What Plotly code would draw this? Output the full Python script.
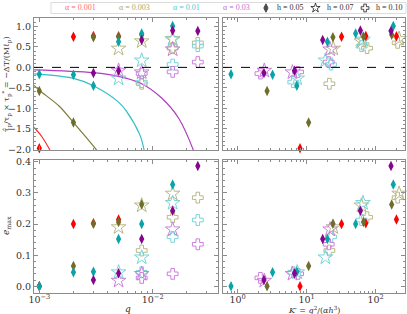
import plotly.graph_objects as go
import numpy as np

# ---------------- data ----------------
alphas = [0.001, 0.003, 0.01, 0.03]
alpha_labels = ["α = 0.001", "α = 0.003", "α = 0.01", "α = 0.03"]
h_values = [0.05, 0.07, 0.10]
h_labels = ["h = 0.05", "h = 0.07", "h = 0.10"]

# h = 0.05 (diamonds)
q_h05 = {
    0.001: [0.001, 0.002, 0.003, 0.005],
    0.003: [0.001, 0.002, 0.003, 0.005, 0.008],
    0.01:  [0.001, 0.002, 0.003, 0.005, 0.008, 0.015],
    0.03:  [0.003, 0.005, 0.008, 0.015, 0.025],
}
tau_h05 = {
    0.001: [-1.98, 0.75, 0.77, 0.76],
    0.003: [-0.58, -1.35, 0.74, 0.75, 0.80],
    0.01:  [-0.17, -0.18, -0.45, 0.63, 0.83, 1.01],
    0.03:  [-0.14, -0.08, 0.67, 0.90, 0.89],
}
e_h05 = {
    0.001: [0.0, 0.200, 0.203, 0.215],
    0.003: [0.0, 0.065, 0.201, 0.207, 0.263],
    0.01:  [0.0, 0.045, 0.047, 0.152, 0.200, 0.327],
    0.03:  [0.020, 0.042, 0.152, 0.243, 0.387],
}
# h = 0.07 (open stars)
q_h07 = {
    0.003: [0.005, 0.008, 0.015],
    0.01:  [0.005, 0.008, 0.015],
    0.03:  [0.005, 0.008, 0.015],
}
tau_h07 = {
    0.003: [0.46, 0.64, 0.70],
    0.01:  [-0.27, 0.17, 0.68],
    0.03:  [-0.08, -0.12, 0.44],
}
e_h07 = {
    0.003: [0.190, 0.260, 0.298],
    0.01:  [0.045, 0.093, 0.268],
    0.03:  [0.018, 0.040, 0.183],
}
# h = 0.10 (open crosses)
q_h10 = {
    0.003: [0.008, 0.015, 0.025],
    0.01:  [0.008, 0.015, 0.025],
    0.03:  [0.008, 0.015, 0.025],
}
tau_h10 = {
    0.003: [-0.40, 0.47, 0.60],
    0.01:  [-0.36, 0.07, 0.52],
    0.03:  [-0.15, -0.11, 0.13],
}
e_h10 = {
    0.003: [0.115, 0.222, 0.285],
    0.01:  [0.045, 0.159, 0.213],
    0.03:  [0.027, 0.040, 0.135],
}

# model curves (h = 0.05), top-left panel
curve_q = {
    0.001: [0.00090, 0.00105, 0.00124],
    0.003: [0.00090, 0.0010, 0.0015, 0.0020, 0.0026, 0.0032],
    0.01:  [0.00090, 0.0020, 0.0030, 0.0050, 0.0059, 0.0077, 0.0084],
    0.03:  [0.00090, 0.0030, 0.0050, 0.0080, 0.0120, 0.0170, 0.0228],
}
curve_tau = {
    0.001: [-1.47, -1.69, -2.02],
    0.003: [-0.44, -0.56, -0.95, -1.35, -1.72, -2.02],
    0.01:  [-0.16, -0.27, -0.45, -0.85, -1.08, -1.65, -2.02],
    0.03:  [-0.06, -0.13, -0.22, -0.40, -0.75, -1.25, -2.02],
}

# tick positions
q_major = [0.001, 0.01]
q_minor = [0.0009, 0.002, 0.003, 0.004, 0.005, 0.006, 0.007, 0.008, 0.009, 0.02, 0.03]
k_major = [1, 10, 100]
k_minor = [0.7, 0.8, 0.9, 2, 3, 4, 5, 6, 7, 8, 9, 20, 30, 40, 50, 60, 70, 80, 90, 200]

# ---------------- styles ----------------
col_dark = {0.001: "#ff0000", 0.003: "#6e6e2c", 0.01: "#0aa3a8", 0.03: "#84068c"}
col_line = {0.001: "#ff2a2a", 0.003: "#7d7d3a", 0.01: "#2ec0c6", 0.03: "#b03cc0"}
col_open = {0.003: "#b8b888", 0.01: "#78d4d8", 0.03: "#cc80dc"}
col_text = {0.001: "#ff6a6a", 0.003: "#a8a870", 0.01: "#50c8cc", 0.03: "#c070d0"}

W, H = 407, 314
FONT = "DejaVu Serif"
LFONT = "Liberation Serif"
AX = "#8c8c8c"
TXT = "#333333"


def kprime(q, a, h):
    q = np.asarray(q, dtype=float)
    return q ** 2 / (a * h ** 3)


fig = go.Figure()

# curves
for a in alphas:
    fig.add_trace(go.Scatter(x=curve_q[a], y=curve_tau[a], mode="lines",
                             line=dict(color=col_line[a], width=1.2, shape="spline"),
                             xaxis="x", yaxis="y", showlegend=False, hoverinfo="skip",
                             cliponaxis=True))


def add_series(qd, taud, ed, h, symbol, size, filled):
    for a in qd:
        q = qd[a]
        kp = kprime(q, a, h)
        if filled:
            mk = dict(symbol=symbol, size=size, color=col_dark[a], line=dict(width=0))
        else:
            mk = dict(symbol=symbol, size=size, color=col_open[a],
                      line=dict(width=1, color=col_open[a]))
        for (xa, ya), xs, ys in [(("x", "y"), q, taud[a]), (("x2", "y2"), kp, taud[a]),
                                 (("x3", "y3"), q, ed[a]), (("x4", "y4"), kp, ed[a])]:
            fig.add_trace(go.Scatter(x=xs, y=ys, mode="markers", marker=mk,
                                     xaxis=xa, yaxis=ya, showlegend=False,
                                     hoverinfo="skip", cliponaxis=False))


add_series(q_h10, tau_h10, e_h10, 0.10, "cross-open", 9, False)
add_series(q_h07, tau_h07, e_h07, 0.07, "star-open", 11, False)
add_series(q_h05, tau_h05, e_h05, 0.05, "diamond-tall", 7.5, True)

# legend key markers (aux axis spanning the legend strip, unit positions)
fig.add_trace(go.Scatter(x=[0, 1, 2], y=[0, 0, 0], mode="markers",
                         marker=dict(symbol=["diamond-tall", "star-open", "cross-open"],
                                     size=[6, 7, 6.5], color="black",
                                     line=dict(width=1, color="black")),
                         xaxis="x5", yaxis="y5", showlegend=False, hoverinfo="skip",
                         cliponaxis=False))


def px_dom_x(a, b):
    return [a / W, b / W]


def px_dom_y(top, bottom):
    return [1 - bottom / H, 1 - top / H]


def axis(**kw):
    d = dict(showline=True, linecolor=AX, linewidth=1, mirror="ticks",
             ticks="inside", ticklen=4, tickcolor=AX, tickwidth=0.8,
             showgrid=False, zeroline=False, automargin=False,
             tickfont=dict(family=FONT, size=9.5, color=TXT))
    d.update(kw)
    return d


def minor(vals=None, dt=None):
    m = dict(ticks="inside", ticklen=2, tickcolor=AX, showgrid=False)
    if vals is not None:
        m["tickmode"] = "array"
        m["tickvals"] = vals
    if dt is not None:
        m["dtick"] = dt
    return m


q_range = [-3.047, -1.424]
k_range = [-0.213, 2.425]
tau_range = [-2.02, 1.22]
e_range = [-0.02, 0.406]

x_left = px_dom_x(34, 218)
x_right = px_dom_x(223, 405)
y_top = px_dom_y(17.5, 150)
y_bot = px_dom_y(160, 292.5)

fig.update_layout(
    width=W, height=H, margin=dict(l=0, r=0, t=0, b=0, pad=0, autoexpand=False),
    paper_bgcolor="white", plot_bgcolor="rgba(0,0,0,0)", showlegend=False,
    font=dict(family=FONT, color=TXT),
    xaxis=axis(type="log", range=q_range, domain=x_left, anchor="y",
               tickmode="array", tickvals=q_major, showticklabels=False,
               minor=minor(q_minor)),
    yaxis=axis(range=tau_range, domain=y_top, anchor="x",
               tickmode="array", tickvals=[-2.0, -1.5, -1.0, -0.5, 0.0, 0.5, 1.0],
               tickformat=".1f", minor=minor(dt=0.1)),
    xaxis2=axis(type="log", range=k_range, domain=x_right, anchor="y2",
                tickmode="array", tickvals=k_major, showticklabels=False,
                minor=minor(k_minor)),
    yaxis2=axis(range=tau_range, domain=y_top, anchor="x2",
                tickmode="array", tickvals=[-2.0, -1.5, -1.0, -0.5, 0.0, 0.5, 1.0],
                showticklabels=False, minor=minor(dt=0.1)),
    xaxis3=axis(type="log", range=q_range, domain=x_left, anchor="y3",
                tickmode="array", tickvals=q_major, ticktext=["10<sup>−3</sup>", "10<sup>−2</sup>"],
                ticklabelstandoff=-2, minor=minor(q_minor)),
    yaxis3=axis(range=e_range, domain=y_bot, anchor="x3",
                tickmode="array", tickvals=[0.0, 0.1, 0.2, 0.3, 0.4], tickformat=".1f",
                minor=minor(dt=0.02)),
    xaxis4=axis(type="log", range=k_range, domain=x_right, anchor="y4",
                tickmode="array", tickvals=k_major,
                ticktext=["10<sup>0</sup>", "10<sup>1</sup>", "10<sup>2</sup>"],
                ticklabelstandoff=-2, minor=minor(k_minor)),
    yaxis4=axis(range=e_range, domain=y_bot, anchor="x4",
                tickmode="array", tickvals=[0.0, 0.1, 0.2, 0.3, 0.4],
                showticklabels=False, minor=minor(dt=0.02)),
    xaxis5=dict(domain=[258 / W, 373 / W], range=[-0.16, 2.16], visible=False,
                anchor="y5", automargin=False),
    yaxis5=dict(domain=[1 - 12 / H, 1 - 4 / H], range=[-1, 1], visible=False,
                anchor="x5", automargin=False),
)

# dashed zero lines in top panels
for xa, ya in [("x", "y"), ("x2", "y2")]:
    fig.add_shape(type="line", xref=f"{xa} domain", yref=ya, x0=0, x1=1, y0=0, y1=0,
                  line=dict(color="black", width=1, dash="dash"))

# legend frame
fig.add_shape(type="rect", xref="paper", yref="paper",
              x0=51 / W, x1=406 / W, y0=1 - 13.5 / H, y1=1 - 2.5 / H,
              line=dict(color="#dddddd", width=1), fillcolor="rgba(0,0,0,0)", layer="below")

leg_x = [80.8, 134.7, 186, 236]
for a, lab, xc in zip(alphas, alpha_labels, leg_x):
    fig.add_annotation(x=xc / W, y=1 - 8 / H, xref="paper", yref="paper", text=lab,
                       showarrow=False, font=dict(family=LFONT, size=8, color=col_text[a]),
                       xanchor="center", yanchor="middle")
for lab, xc in zip(h_labels, [275, 325, 374]):
    fig.add_annotation(x=xc / W, y=1 - 8 / H, xref="paper", yref="paper", text=lab,
                       showarrow=False, font=dict(family=LFONT, size=8, color=TXT),
                       xanchor="left", yanchor="middle")

# axis titles as annotations
fig.add_annotation(x=7 / W, y=1 - 84 / H, xref="paper", yref="paper",
                   text="τ̂<sub>p</sub>/τ<sub>p</sub> × τ<sub>p</sub><sup>*</sup> = −ΔT/(Mℓ<sub>p</sub>)",
                   textangle=-90, showarrow=False, font=dict(family=FONT, size=8, color=TXT),
                   xanchor="center", yanchor="middle")
fig.add_annotation(x=7 / W, y=1 - 226 / H, xref="paper", yref="paper",
                   text="<i>e</i><sub>max</sub>", textangle=-90, showarrow=False,
                   font=dict(family=FONT, size=9, color=TXT), xanchor="center", yanchor="middle")
fig.add_annotation(x=128 / W, y=1 - 309 / H, xref="paper", yref="paper",
                   text="<i>q</i>", showarrow=False, font=dict(family=FONT, size=9, color=TXT),
                   xanchor="center", yanchor="middle")
fig.add_annotation(x=314 / W, y=1 - 309.5 / H, xref="paper", yref="paper",
                   text="<i>K</i>′ = <i>q</i><sup>2</sup>/(<i>αh</i><sup>3</sup>)", showarrow=False,
                   font=dict(family=FONT, size=8, color=TXT), xanchor="center", yanchor="middle")

fig.write_html("out.html", config={"displayModeBar": False},
               post_script="document.body.style.margin='0px';document.body.style.overflow='hidden';")
